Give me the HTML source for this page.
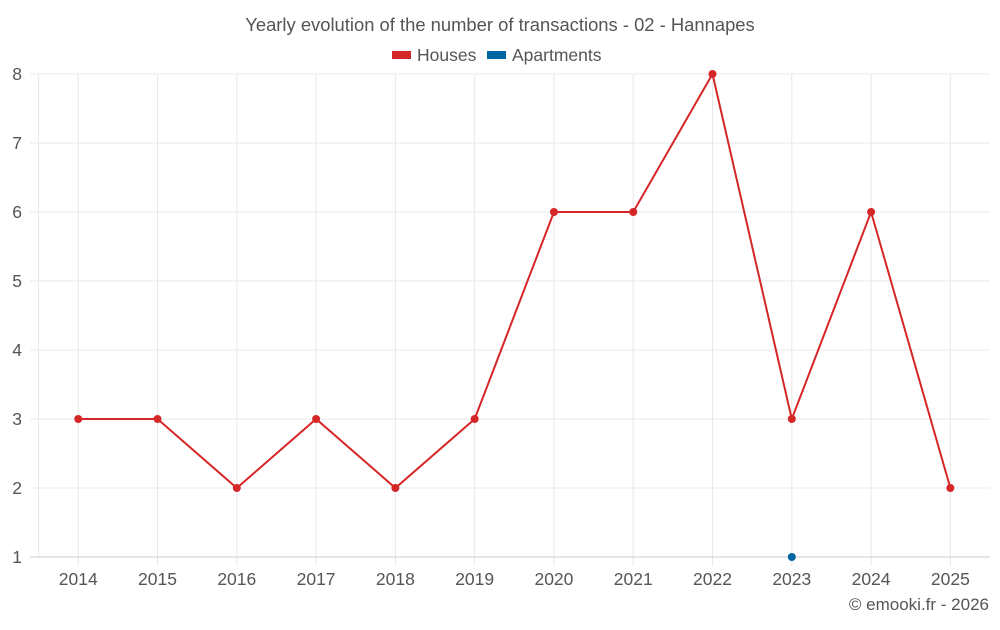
<!DOCTYPE html>
<html><head><meta charset="utf-8"><style>
html,body{margin:0;padding:0;background:#fff;}
svg text{font-family:"Liberation Sans",sans-serif;}
</style></head><body>
<svg id="chart" width="1000" height="625" viewBox="0 0 1000 625" xmlns="http://www.w3.org/2000/svg">
<text x="500" y="31" text-anchor="middle" font-size="18.4" fill="#555">Yearly evolution of the number of transactions - 02 - Hannapes</text>
<g>
<g><rect x="392" y="51" width="19" height="8" fill="#d62728"/><text x="417" y="61" font-size="17.5" fill="#555">Houses</text></g>
<g><rect x="487" y="51" width="19" height="8" fill="#0066a1"/><text x="512" y="61" font-size="17.5" fill="#555">Apartments</text></g>
</g>
<g id="grid"></g>
<g id="axes"></g>
<g id="series"></g>
<text x="989" y="610" text-anchor="end" font-size="17" fill="#555">© emooki.fr - 2026</text>
</svg>
<script>
const years=["2014","2015","2016","2017","2018","2019","2020","2021","2022","2023","2024","2025"];
const houses=[3,3,2,3,2,3,6,6,8,3,6,2];
const apartments=[null,null,null,null,null,null,null,null,null,1,null,null];
const yTicks=[1,2,3,4,5,6,7,8];
const NS="http://www.w3.org/2000/svg";
const L=38.6,R=990,T=74,B=557,yMin=1,yMax=8;
const bw=(R-L)/years.length;
const x=i=>L+bw*(i+0.5);
const y=v=>B-(v-yMin)/(yMax-yMin)*(B-T);
function mk(tag,attrs,parent){const e=document.createElementNS(NS,tag);for(const k in attrs)e.setAttribute(k,attrs[k]);parent.appendChild(e);return e;}
const grid=document.getElementById('grid'),axes=document.getElementById('axes'),series=document.getElementById('series');
yTicks.forEach(t=>{
 if(t!==yMin){const l=mk('line',{x1:30,x2:R,y1:y(t),y2:y(t),stroke:'#e8e8e8','stroke-width':1},grid);
 
 }
 const tx=mk('text',{x:22,y:y(t)+6,'text-anchor':'end','font-size':17.5,fill:'#555'},axes);tx.textContent=t;
 
 
});
const gl=mk('line',{x1:L,x2:L,y1:T,y2:B,stroke:'#e8e8e8'},grid);


years.forEach((yr,i)=>{
 const l=mk('line',{x1:x(i),x2:x(i),y1:T,y2:B+9,stroke:'#e8e8e8'},grid);
 
 
 const tx=mk('text',{x:x(i),y:585,'text-anchor':'middle','font-size':17.5,fill:'#555'},axes);tx.textContent=yr;
 
 
});
const ax=mk('line',{x1:30,x2:R,y1:B,y2:B,stroke:'#ccc'},axes);


const pts=houses.map((v,i)=>x(i)+','+y(v)).join(' ');
const pl=mk('polyline',{points:pts,fill:'none',stroke:'#d62728','stroke-width':2},series);


houses.forEach((v,i)=>{const c=mk('circle',{cx:x(i),cy:y(v),r:4,fill:'#d62728'},series);
 
 });
apartments.forEach((v,i)=>{if(v==null)return;const c=mk('circle',{cx:x(i),cy:y(v),r:4,fill:'#0066a1'},series);
 
 });
</script>
</body></html>
